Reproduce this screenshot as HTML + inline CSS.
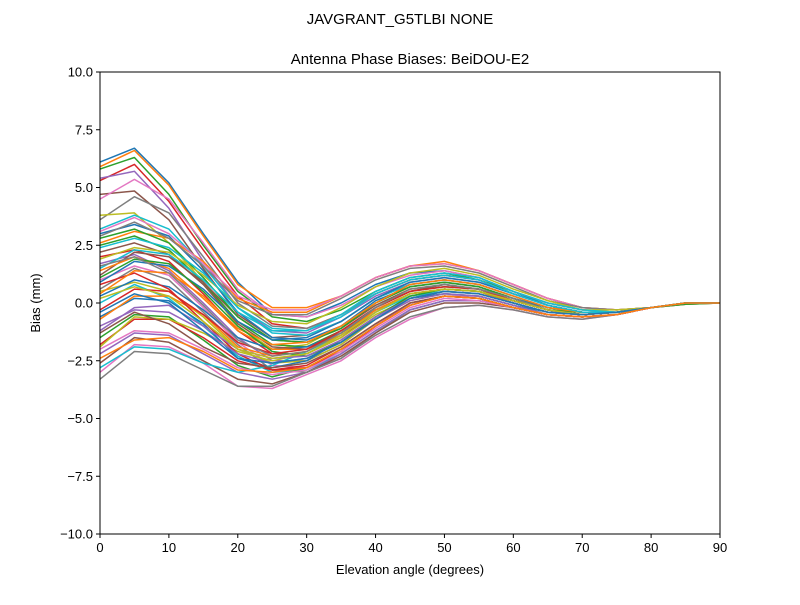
<!DOCTYPE html>
<html><head><meta charset="utf-8"><style>
body{margin:0;background:#fff;}
svg text{font-family:"Liberation Sans","DejaVu Sans",sans-serif;fill:#000;}
</style></head><body>
<svg id="chart" width="800" height="600" xmlns="http://www.w3.org/2000/svg">
<rect width="800" height="600" fill="#fff"/>
<text x="400" y="24" font-size="15" text-anchor="middle">JAVGRANT_G5TLBI NONE</text>
<text x="410" y="64" font-size="15" text-anchor="middle">Antenna Phase Biases: BeiDOU-E2</text>
<g id="lines"></g>
<g id="axes"></g>
<text x="410" y="574" font-size="13" text-anchor="middle">Elevation angle (degrees)</text>
<text transform="translate(40,303) rotate(-90)" font-size="13" text-anchor="middle">Bias (mm)</text>
</svg>
<script>
const elevations=[0,5,10,15,20,25,30,35,40,45,50,55,60,65,70,75,80,85,90];
const xTicks=[0,10,20,30,40,50,60,70,80,90];
const yTicks=[-10,-7.5,-5,-2.5,0,2.5,5,7.5,10];
const yTickLabels=["\u221210.0","\u22127.5","\u22125.0","\u22122.5","0.0","2.5","5.0","7.5","10.0"];
const series=[
[6.1,6.7,5.2,3.0,0.9,-0.5,-0.6,0.0,0.8,1.3,1.4,1.1,0.5,-0.1,-0.4,-0.4,-0.2,-0.05,0],
[5.9,6.6,5.1,2.9,0.8,-0.2,-0.2,0.3,1.1,1.6,1.7,1.4,0.8,0.2,-0.2,-0.3,-0.2,-0.05,0],
[5.8,6.3,4.7,2.5,0.5,-0.6,-0.8,-0.3,0.5,1.1,1.3,1.0,0.5,0.0,-0.3,-0.4,-0.2,-0.05,0],
[5.3,6.0,4.4,2.3,0.3,-0.9,-1.1,-0.5,0.4,1.0,1.2,1.0,0.4,-0.1,-0.4,-0.4,-0.2,0,0],
[5.4,5.7,4.1,1.8,-0.2,-1.2,-1.3,-0.6,0.3,0.9,1.1,0.9,0.4,-0.1,-0.4,-0.4,-0.2,0,0],
[4.7,4.85,3.6,1.5,-0.5,-1.5,-1.4,-0.8,0.2,0.8,1.0,0.8,0.3,-0.2,-0.4,-0.4,-0.2,0,0],
[4.5,5.35,4.5,2.6,0.6,-0.5,-0.6,-0.1,0.7,1.2,1.4,1.1,0.5,0,-0.3,-0.4,-0.2,0,0],
[3.6,4.6,3.9,2.0,0.0,-1.0,-1.1,-0.5,0.4,1.0,1.2,1.0,0.4,-0.1,-0.4,-0.4,-0.2,0,0],
[3.8,3.9,2.6,0.9,-1.0,-2.0,-1.8,-1.0,0.0,0.7,0.9,0.7,0.2,-0.3,-0.5,-0.4,-0.2,0,0],
[3.2,3.8,3.2,1.6,-0.2,-1.3,-1.4,-0.8,0.2,0.8,1.0,0.8,0.3,-0.2,-0.4,-0.4,-0.2,0,0],
[3.0,3.4,2.9,1.4,-0.4,-1.5,-1.6,-1.0,0.1,0.7,0.9,0.7,0.2,-0.2,-0.4,-0.4,-0.2,0,0],
[2.6,3.1,2.8,1.8,0.2,-0.4,-0.4,0.3,1.1,1.6,1.8,1.4,0.8,0.2,-0.2,-0.3,-0.2,0,0],
[2.5,2.9,2.3,0.9,-0.8,-1.8,-1.9,-1.2,-0.2,0.5,0.7,0.6,0.1,-0.3,-0.5,-0.4,-0.2,0,0],
[2.0,2.3,1.8,0.4,-1.2,-2.2,-2.2,-1.5,-0.4,0.4,0.6,0.5,0.0,-0.4,-0.5,-0.4,-0.2,0,0],
[1.7,2.1,1.4,0.0,-1.5,-2.5,-2.5,-1.8,-0.7,0.2,0.5,0.4,0,-0.4,-0.5,-0.4,-0.2,0,0],
[1.2,2.2,2.0,0.9,-0.6,-1.6,-1.7,-1.1,-0.1,0.6,0.8,0.6,0.2,-0.3,-0.5,-0.4,-0.2,0,0],
[1.0,1.6,1.2,-0.2,-1.7,-2.7,-2.8,-2.1,-1.0,0.0,0.3,0.3,-0.1,-0.5,-0.6,-0.5,-0.2,0,0],
[0.6,1.5,1.0,-0.4,-1.8,-2.9,-3.0,-2.4,-1.3,-0.3,0.1,0.1,-0.2,-0.5,-0.6,-0.5,-0.2,0,0],
[0.5,0.9,0.5,-0.6,-2.0,-2.6,-2.5,-1.8,-0.7,0.1,0.4,0.3,-0.1,-0.5,-0.6,-0.5,-0.2,0,0],
[0.0,0.8,0.2,-1.0,-2.3,-3.0,-2.9,-2.2,-1.2,-0.3,0.1,0.1,-0.2,-0.5,-0.6,-0.5,-0.2,0,0],
[-0.6,0.2,0.1,-0.9,-2.4,-2.8,-2.5,-1.6,-0.6,0.2,0.4,0.3,-0.1,-0.4,-0.5,-0.4,-0.2,0,0],
[-0.7,0.3,0.3,-0.5,-1.9,-2.3,-2.1,-1.3,-0.3,0.4,0.6,0.5,0.0,-0.4,-0.5,-0.4,-0.2,0,0],
[-1.5,-0.5,-0.6,-1.6,-2.7,-3.2,-2.8,-2.0,-1.0,-0.1,0.3,0.2,-0.2,-0.5,-0.6,-0.5,-0.2,0,0],
[-1.8,-0.7,-0.7,-1.5,-2.5,-2.9,-2.7,-1.9,-0.9,0,0.3,0.2,-0.2,-0.5,-0.6,-0.5,-0.2,0,0],
[-2.2,-1.3,-1.4,-2.2,-3.0,-3.3,-3.0,-2.2,-1.2,-0.3,0.1,0.1,-0.2,-0.5,-0.6,-0.5,-0.2,0,0],
[-2.6,-1.5,-1.7,-2.5,-3.3,-3.5,-3.0,-2.3,-1.3,-0.4,0,0,-0.2,-0.5,-0.6,-0.5,-0.2,0,0],
[-3.0,-1.8,-1.9,-2.6,-3.6,-3.7,-3.1,-2.5,-1.5,-0.7,-0.2,-0.1,-0.3,-0.6,-0.7,-0.5,-0.2,0,0],
[-3.3,-2.1,-2.2,-2.9,-3.6,-3.6,-3.0,-2.4,-1.4,-0.6,-0.2,-0.1,-0.3,-0.6,-0.7,-0.5,-0.2,0,0],
[-1.9,-0.6,-0.7,-1.3,-2.1,-2.5,-2.2,-1.5,-0.5,0.2,0.5,0.4,0,-0.4,-0.5,-0.4,-0.2,0,0],
[-2.8,-1.9,-2.0,-2.6,-3.0,-2.7,-2.1,-1.4,-0.4,0.3,0.5,0.4,0,-0.4,-0.5,-0.4,-0.2,0,0],
[0.3,1.0,0.7,-0.3,-1.5,-2.0,-1.9,-1.3,-0.3,0.4,0.6,0.5,0.1,-0.3,-0.5,-0.4,-0.2,0,0],
[1.4,2.0,1.5,0.2,-1.2,-2.0,-2.0,-1.4,-0.3,0.4,0.6,0.5,0.1,-0.3,-0.5,-0.4,-0.2,0,0],
[2.8,3.2,2.6,1.1,-0.6,-1.6,-1.7,-1.1,0,0.7,0.9,0.7,0.2,-0.3,-0.4,-0.4,-0.2,0,0],
[0.8,1.3,0.6,-0.8,-2.2,-2.9,-2.8,-2.1,-1.0,-0.1,0.3,0.2,-0.2,-0.5,-0.6,-0.5,-0.2,0,0],
[-1.0,-0.3,-0.4,-1.2,-2.2,-2.6,-2.4,-1.7,-0.7,0.1,0.4,0.3,-0.1,-0.5,-0.6,-0.5,-0.2,0,0],
[2.2,2.6,2.1,0.8,-0.9,-1.9,-2.0,-1.3,-0.2,0.5,0.8,0.6,0.1,-0.3,-0.5,-0.4,-0.2,0,0],
[3.1,3.7,3.0,1.7,0.3,-0.3,-0.3,0.3,1.1,1.6,1.7,1.4,0.8,0.2,-0.2,-0.3,-0.2,0,0],
[2.9,3.5,2.8,1.6,0.1,-0.5,-0.5,0.2,1.0,1.5,1.6,1.3,0.7,0.1,-0.2,-0.3,-0.2,0,0],
[1.9,2.4,2.2,1.2,-0.1,-0.8,-0.9,-0.2,0.7,1.3,1.5,1.2,0.6,0.1,-0.3,-0.3,-0.2,0,0],
[1.5,2.3,2.1,1.0,-0.4,-1.2,-1.2,-0.5,0.5,1.1,1.3,1.1,0.5,0,-0.3,-0.4,-0.2,0,0],
[0.9,1.8,1.6,0.6,-0.8,-1.6,-1.5,-0.8,0.2,0.9,1.1,0.9,0.4,-0.1,-0.4,-0.4,-0.2,0,0],
[0.4,1.4,1.3,0.3,-1.1,-1.8,-1.7,-1.0,0.0,0.8,1.0,0.8,0.3,-0.2,-0.4,-0.4,-0.2,0,0],
[1.1,1.9,1.7,0.5,-1.0,-2.1,-2.3,-1.7,-0.6,0.3,0.6,0.5,0.1,-0.3,-0.5,-0.4,-0.2,0,0],
[-0.3,0.6,0.5,-0.5,-1.7,-2.2,-2.0,-1.2,-0.2,0.5,0.7,0.6,0.1,-0.3,-0.5,-0.4,-0.2,0,0],
[-1.2,-0.2,-0.1,-1.0,-2.0,-2.4,-2.3,-1.6,-0.6,0.2,0.5,0.4,0,-0.4,-0.5,-0.4,-0.2,0,0],
[-1.3,-0.4,-0.9,-1.9,-2.6,-2.8,-2.6,-1.9,-0.9,0,0.3,0.2,-0.2,-0.5,-0.6,-0.5,-0.2,0,0],
[-2.0,-1.2,-1.3,-2.0,-2.8,-3.1,-2.9,-2.1,-1.1,-0.2,0.2,0.1,-0.2,-0.5,-0.6,-0.5,-0.2,0,0],
[1.6,2.0,1.3,-0.1,-1.6,-2.3,-2.1,-1.3,-0.2,0.6,0.8,0.6,0.2,-0.3,-0.5,-0.4,-0.2,0,0],
[0.2,0.7,0.3,-0.8,-2.0,-2.4,-2.2,-1.4,-0.4,0.4,0.6,0.5,0.1,-0.3,-0.5,-0.4,-0.2,0,0],
[2.4,2.8,2.4,1.3,-0.2,-1.1,-1.2,-0.6,0.4,1.0,1.2,1.0,0.4,-0.1,-0.4,-0.4,-0.2,0,0],
[-0.4,0.4,0.0,-1.2,-2.4,-2.6,-2.4,-1.7,-0.7,0.2,0.5,0.4,0,-0.4,-0.5,-0.4,-0.2,0,0],
[-2.4,-1.6,-1.5,-2.1,-2.9,-3.0,-2.8,-2.0,-1.0,-0.1,0.3,0.2,-0.2,-0.5,-0.6,-0.5,-0.2,0,0]
];
const colors=["#1f77b4","#ff7f0e","#2ca02c","#d62728","#9467bd","#8c564b","#e377c2","#7f7f7f","#bcbd22","#17becf"];
const L=100,R=720,T=72,B=534;
const xs=v=>L+(v-0)/(90-0)*(R-L);
const ys=v=>B-(v+10)/20*(B-T);
const NS="http://www.w3.org/2000/svg";
const lines=document.getElementById('lines');
const clip=document.createElementNS(NS,'clipPath');clip.setAttribute('id','pc');
const cr=document.createElementNS(NS,'rect');cr.setAttribute('x',L);cr.setAttribute('y',T);cr.setAttribute('width',R-L);cr.setAttribute('height',B-T);
clip.appendChild(cr);lines.appendChild(clip);
lines.setAttribute('clip-path','url(#pc)');
series.forEach((s,i)=>{
  const p=document.createElementNS(NS,'polyline');
  p.setAttribute('points',s.map((v,j)=>xs(elevations[j]).toFixed(1)+','+ys(v).toFixed(1)).join(' '));
  p.setAttribute('fill','none');p.setAttribute('stroke',colors[i%10]);p.setAttribute('stroke-width','1.5');
  p.setAttribute('stroke-linejoin','round');
  
  
  lines.appendChild(p);
});
const axes=document.getElementById('axes');
const fr=document.createElementNS(NS,'rect');
fr.setAttribute('x',L);fr.setAttribute('y',T);fr.setAttribute('width',R-L);fr.setAttribute('height',B-T);
fr.setAttribute('fill','none');fr.setAttribute('stroke','#000');fr.setAttribute('stroke-width','1');


axes.appendChild(fr);
xTicks.forEach(v=>{
  const x=xs(v);
  const l=document.createElementNS(NS,'line');
  l.setAttribute('x1',x);l.setAttribute('x2',x);l.setAttribute('y1',B);l.setAttribute('y2',B+4);l.setAttribute('stroke','#000');
  
  
  axes.appendChild(l);
  const t=document.createElementNS(NS,'text');
  t.setAttribute('x',x);t.setAttribute('y',B+18);t.setAttribute('font-size','13');t.setAttribute('text-anchor','middle');
  t.textContent=v;
  
  
  axes.appendChild(t);
});
yTicks.forEach((v,i)=>{
  const y=ys(v);
  const l=document.createElementNS(NS,'line');
  l.setAttribute('x1',L-4);l.setAttribute('x2',L);l.setAttribute('y1',y);l.setAttribute('y2',y);l.setAttribute('stroke','#000');
  
  
  axes.appendChild(l);
  const t=document.createElementNS(NS,'text');
  t.setAttribute('x',L-7);t.setAttribute('y',y+4.5);t.setAttribute('font-size','13');t.setAttribute('text-anchor','end');
  t.textContent=yTickLabels[i];
  
  
  axes.appendChild(t);
});
</script>
</body></html>
